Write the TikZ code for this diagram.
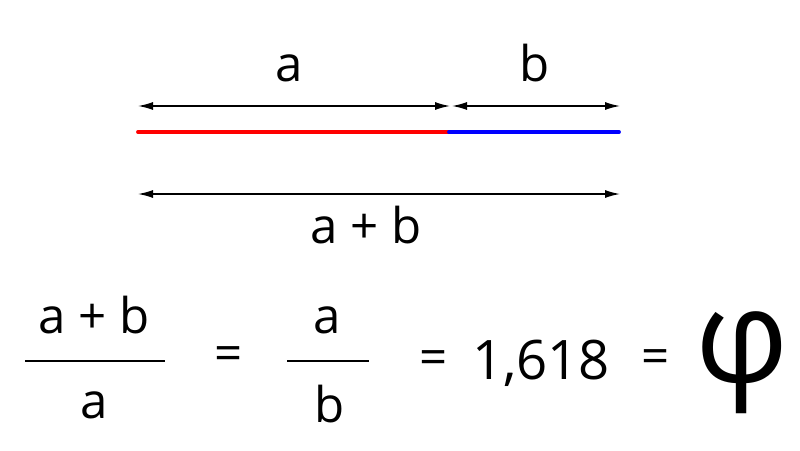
\documentclass[tikz,border=0pt]{standalone}
\usepackage{fontspec}
\setmainfont{Open Sans}
\usetikzlibrary{arrows.meta, positioning, calc}
\tikzset{
    dim/.style={{Latex[length=3mm,width=1.6mm]}-{Latex[length=3mm,width=1.6mm]}, line width=0.8pt},
    seg/.style={line width=2.2pt, line cap=round},
    label/.style={font=\fontsize{28}{32}\selectfont, inner sep=0pt, anchor=base},
    term/.style={font=\fontsize{28}{32}\selectfont, inner sep=0pt},
    bar/.style={line width=0.7pt}
}

\begin{document}
\begin{tikzpicture}
    \useasboundingbox (0,0) rectangle (16,9);
    % segment ends
    \coordinate (left) at (2.76,6.36);
    \coordinate (mid) at (8.98,6.36);
    \coordinate (right) at (12.38,6.36);
    \coordinate (tl) at (2.76,6.88);
    \coordinate (tm) at (9.0,6.88);
    \coordinate (tm2) at (9.04,6.88);
    \coordinate (tr) at (12.4,6.88);
    \coordinate (bl) at (2.76,5.12);
    \coordinate (br) at (12.4,5.12);

    \draw[dim] (tl) -- (tm);
    \draw[dim] (tm2) -- (tr);
    \draw[seg, red] (left) -- (mid);
    \draw[seg, blue] (mid) -- (right);
    \draw[dim] (bl) -- (br);

    \node[label] (la) at (5.78,7.36) {a};
    \node[label] (lb) at (10.7,7.36) {b};
    \node[label] (lab) at (7.32,4.14) {a + b};

    % equation
    \coordinate (f1l) at (0.5,1.78);
    \coordinate (f1r) at (3.3,1.78);
    \draw[bar] (f1l) -- (f1r);
    \node[label] (num1) at (1.88,2.34) {a + b};
    \node[label] (den1) at (1.88,0.64) {a};
    \node[term] (eq1) at (4.57,1.82) {=};
    \coordinate (f2l) at (5.74,1.78);
    \coordinate (f2r) at (7.38,1.78);
    \draw[bar] (f2l) -- (f2r);
    \node[label] (num2) at (6.54,2.34) {a};
    \node[label] (den2) at (6.6,0.56) {b};
    \node[term] (eq2) at (8.68,1.74) {=};
    \node[label, font=\fontsize{31}{36}\selectfont] (val) at (10.82,1.42) {1,618};
    \node[term] (eq3) at (13.12,1.76) {=};
    \node[font=\fontsize{74}{84}\selectfont, inner sep=0pt] (phi) at (14.84,1.74) {φ};
\end{tikzpicture}
\end{document}
